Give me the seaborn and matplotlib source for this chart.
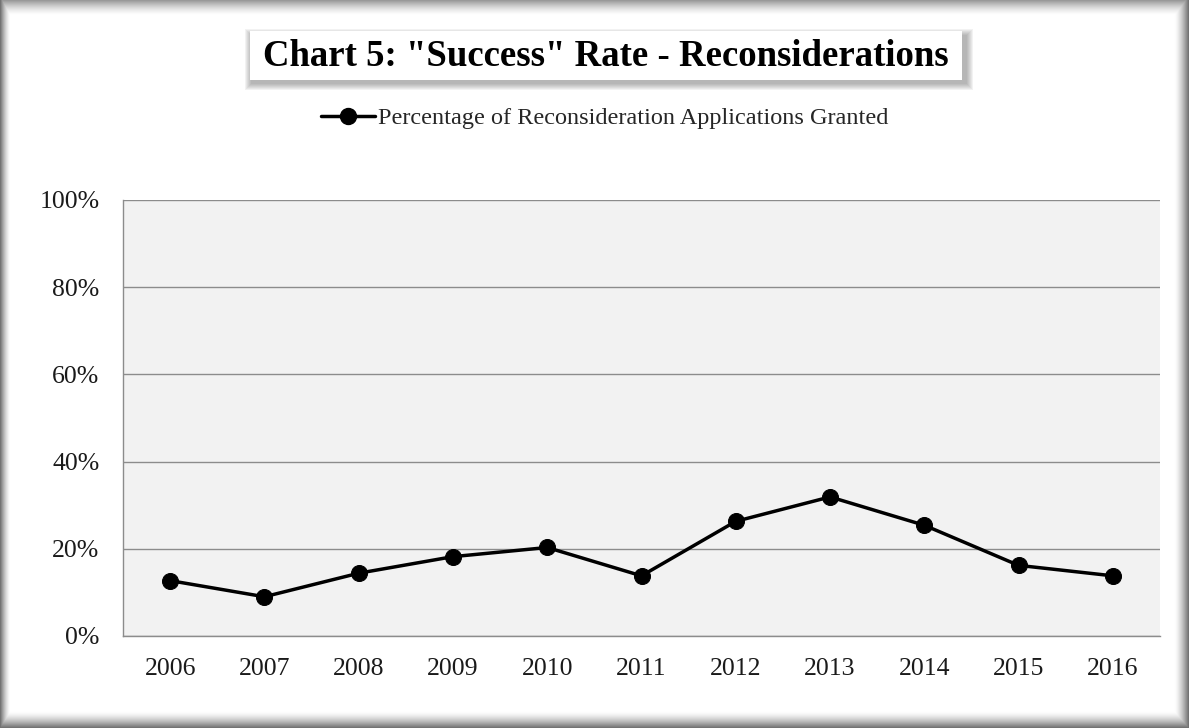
import numpy as np
import pandas as pd
import matplotlib
matplotlib.use("Agg")
import matplotlib.pyplot as plt
import seaborn as sns
from matplotlib.patches import Rectangle
from matplotlib.lines import Line2D

years = ["2006", "2007", "2008", "2009", "2010", "2011", "2012", "2013", "2014", "2015", "2016"]
granted_pct = [12.7, 9.0, 14.4, 18.2, 20.3, 13.8, 26.3, 31.9, 25.4, 16.2, 13.8]
y_ticks = [0, 20, 40, 60, 80, 100]
y_tick_labels = ["0%", "20%", "40%", "60%", "80%", "100%"]
title = 'Chart 5: "Success" Rate - Reconsiderations'
series_name = "Percentage of Reconsideration Applications Granted"

sns.set_theme(style="white")
plt.rcParams['font.family'] = ['Liberation Serif', 'DejaVu Serif']

W, H = 1189, 728
fig = plt.figure(figsize=(W / 100, H / 100), dpi=100)

# background with shadowed frame
bg = fig.add_axes([0, 0, 1, 1], zorder=-10)
yy, xx = np.mgrid[0:H, 0:W]
def ramp(d, width, dark):
    t = np.clip(d / width, 0, 1)
    return 1 - (1 - dark) * (1 - t) ** 1.5
shade = np.minimum.reduce([
    ramp(xx, 10, 0.45),
    ramp(W - 1 - xx, 14, 0.45),
    ramp(yy, 15, 0.6),
    ramp(H - 1 - yy, 16, 0.45),
])
bg.imshow(shade, cmap="gray", vmin=0, vmax=1, aspect="auto", interpolation="bilinear")
bg.set_axis_off()

df = pd.DataFrame({"Year": years, "Pct": granted_pct})
df["pos"] = np.arange(len(years))

ax = fig.add_axes([123 / W, 1 - 636 / H, (1160 - 123) / W, (636 - 200) / H])
ax.set_facecolor("#f2f2f2")
sns.lineplot(data=df, x="pos", y="Pct", ax=ax, color="black", linewidth=2.5,
             marker="o", markersize=11.5, markeredgecolor="black", zorder=5)

ax.set_xlim(-0.5, len(years) - 0.5)
ax.set_ylim(0, 100)
ax.set_yticks(y_ticks)
ax.set_yticklabels(y_tick_labels)
ax.set_xticks(np.arange(len(years) + 1) - 0.5)
ax.set_xticklabels([])
ax.set_xticks(np.arange(len(years)), minor=True)
ax.set_xticklabels(years, minor=True)
ax.tick_params(axis="x", which="major", length=8, width=1, color="#8c8c8c", direction="out")
ax.tick_params(axis="x", which="minor", length=0, pad=16, labelsize=18.5, labelcolor="#1a1a1a")
ax.tick_params(axis="y", which="major", length=8, width=1, color="#8c8c8c", direction="out",
               labelsize=18.5, labelcolor="#1a1a1a", pad=9)
ax.yaxis.grid(True, color="#8c8c8c", linewidth=1)
ax.xaxis.grid(False)
ax.set_axisbelow(True)
for s in ["top", "right"]:
    ax.spines[s].set_visible(False)
for s in ["left", "bottom"]:
    ax.spines[s].set_color("#8c8c8c")
    ax.spines[s].set_linewidth(1)
ax.set_xlabel("")
ax.set_ylabel("")
if ax.get_legend():
    ax.get_legend().remove()

# title box with soft shadow
bx0, bx1, by0, by1 = 250, 962, 31, 80
for k in range(7, 0, -1):
    fig.patches.append(Rectangle(((bx0 - k + 2) / W, 1 - (by1 + k + 3) / H),
                                 (bx1 - bx0 + 2 * k + 2) / W, (by1 - by0 + 2 * k - 2) / H,
                                 transform=fig.transFigure, facecolor="#505050",
                                 edgecolor="none", alpha=0.07, zorder=1))
fig.patches.append(Rectangle((bx0 / W, 1 - by1 / H), (bx1 - bx0) / W, (by1 - by0) / H,
                             transform=fig.transFigure, facecolor="white", edgecolor="none",
                             zorder=2))
fig.text((bx0 + bx1) / 2 / W, 1 - 57 / H, title, ha="center", va="center",
         fontsize=26.5, fontweight="bold", color="black", zorder=3)

handle = Line2D([], [], color="black", linewidth=2.5, marker="o", markersize=11.5)
fig.legend([handle], [series_name], loc="center", bbox_to_anchor=(605 / W, 1 - 118 / H),
           frameon=False, fontsize=17.5, handlelength=2.2, handletextpad=0.15,
           borderaxespad=0)

fig.savefig("out.png", dpi=100)
